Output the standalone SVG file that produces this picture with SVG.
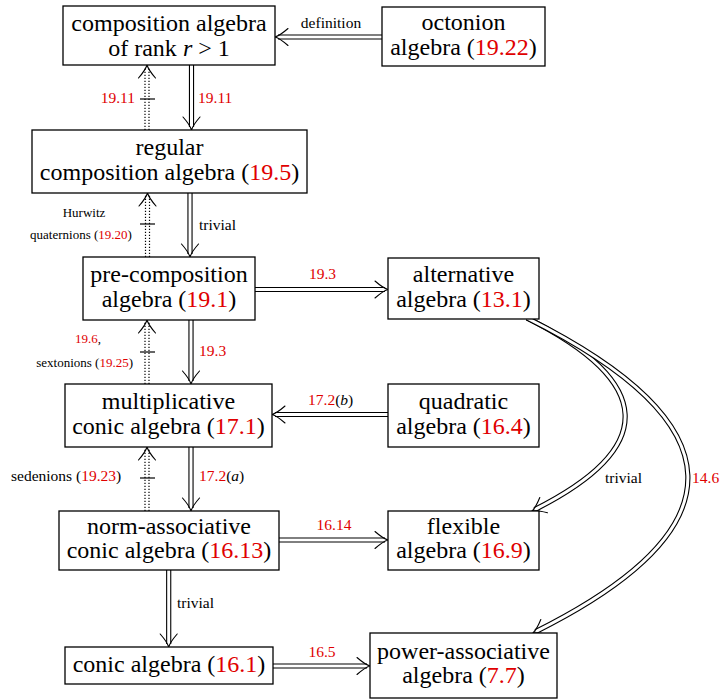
<svg xmlns="http://www.w3.org/2000/svg" xmlns:xlink="http://www.w3.org/1999/xlink" width="721" height="700" viewBox="0 0 721 700">
<style>
.box{fill:#fff;stroke:#000;stroke-width:1.3}
.t{font-family:"Liberation Serif","Times New Roman",serif;font-size:24px;text-anchor:middle;fill:#000}
.l{font-family:"Liberation Serif","Times New Roman",serif;font-size:15.5px;fill:#000}
.s{font-family:"Liberation Serif","Times New Roman",serif;font-size:13px;fill:#000}
.r{fill:#e00000}
.i{font-style:italic}
.mid{text-anchor:middle}
.end{text-anchor:end}
.dbo{fill:none;stroke:#000;stroke-width:5.2}
.dbi{fill:none;stroke:#fff;stroke-width:3}
.ah{fill:none;stroke:#000;stroke-width:1.1;stroke-linecap:round}
.dot{fill:none;stroke:#000;stroke-width:1.2;stroke-dasharray:1.2 1.8}
.tick{stroke:#000;stroke-width:1.2}
</style>
<defs>
<path id="ah" class="ah" d="M-13,-8.5 Q-5,-1.5 0,0 Q-5,1.5 -13,8.5"/>
</defs>
<rect width="721" height="700" fill="#fff"/>

<g id="connectors">
  <!-- octonion -> composition -->
  <path class="dbo" d="M382,37 H278"/><path class="dbi" d="M382,37 H278"/>
  <use xlink:href="#ah" href="#ah" transform="translate(275,37) rotate(180)"/>
  <text class="l mid" x="331" y="28">definition</text>
  <!-- composition -> regular -->
  <path class="dbo" d="M191.5,65 V127"/><path class="dbi" d="M191.5,65 V127"/>
  <use xlink:href="#ah" href="#ah" transform="translate(191.5,130) rotate(90)"/>
  <text class="l r" x="198" y="103">19.11</text>
  <!-- regular ..> composition -->
  <path class="dot" d="M145,130 V67 M149,130 V67"/>
  <use xlink:href="#ah" href="#ah" transform="translate(147,65) rotate(-90)"/>
  <line class="tick" x1="140" y1="99" x2="155" y2="99"/>
  <text class="l r end" x="135" y="103">19.11</text>
  <!-- regular -> pre -->
  <path class="dbo" d="M190,193 V254"/><path class="dbi" d="M190,193 V254"/>
  <use xlink:href="#ah" href="#ah" transform="translate(190,257) rotate(90)"/>
  <text class="l" x="199" y="230">trivial</text>
  <!-- pre ..> regular -->
  <path class="dot" d="M145.5,257 V195 M149.5,257 V195"/>
  <use xlink:href="#ah" href="#ah" transform="translate(147.5,193) rotate(-90)"/>
  <line class="tick" x1="140" y1="224" x2="155" y2="224"/>
  <text class="s mid" x="84" y="217">Hurwitz</text>
  <text class="s mid" x="81" y="239">quaternions (<tspan class="r">19.20</tspan>)</text>
  <!-- pre -> alternative -->
  <path class="dbo" d="M255,289.5 H385"/><path class="dbi" d="M255,289.5 H385"/>
  <use xlink:href="#ah" href="#ah" transform="translate(388,289.5)"/>
  <text class="l r mid" x="322.5" y="279">19.3</text>
  <!-- pre -> multiplicative -->
  <path class="dbo" d="M191,320 V381"/><path class="dbi" d="M191,320 V381"/>
  <use xlink:href="#ah" href="#ah" transform="translate(191,384) rotate(90)"/>
  <text class="l r" x="199" y="356">19.3</text>
  <!-- multiplicative ..> pre -->
  <path class="dot" d="M145,384 V322 M149,384 V322"/>
  <use xlink:href="#ah" href="#ah" transform="translate(147,320) rotate(-90)"/>
  <line class="tick" x1="140" y1="352" x2="155" y2="352"/>
  <text class="s mid" x="88" y="343"><tspan class="r">19.6</tspan>,</text>
  <text class="s end" x="133" y="367">sextonions (<tspan class="r">19.25</tspan>)</text>
  <!-- quadratic -> multiplicative -->
  <path class="dbo" d="M388,414.5 H275"/><path class="dbi" d="M388,414.5 H275"/>
  <use xlink:href="#ah" href="#ah" transform="translate(272,414.5) rotate(180)"/>
  <text class="l" x="308" y="405"><tspan class="r">17.2</tspan>(<tspan class="i">b</tspan>)</text>
  <!-- multiplicative -> norm -->
  <path class="dbo" d="M191,447 V508"/><path class="dbi" d="M191,447 V508"/>
  <use xlink:href="#ah" href="#ah" transform="translate(191,511) rotate(90)"/>
  <text class="l" x="199" y="481"><tspan class="r">17.2</tspan>(<tspan class="i">a</tspan>)</text>
  <!-- norm ..> multiplicative -->
  <path class="dot" d="M145,511 V449 M149,511 V449"/>
  <use xlink:href="#ah" href="#ah" transform="translate(147,447) rotate(-90)"/>
  <line class="tick" x1="140" y1="478" x2="155" y2="478"/>
  <text class="l" x="11" y="481">sedenions (<tspan class="r">19.23</tspan>)</text>
  <!-- norm -> flexible -->
  <path class="dbo" d="M279,540 H385"/><path class="dbi" d="M279,540 H385"/>
  <use xlink:href="#ah" href="#ah" transform="translate(388,540)"/>
  <text class="l r mid" x="334" y="530">16.14</text>
  <!-- norm -> conic -->
  <path class="dbo" d="M168.7,570 V644"/><path class="dbi" d="M168.7,570 V644"/>
  <use xlink:href="#ah" href="#ah" transform="translate(168.7,647) rotate(90)"/>
  <text class="l" x="177" y="608">trivial</text>
  <!-- conic -> power -->
  <path class="dbo" d="M273,666 H367"/><path class="dbi" d="M273,666 H367"/>
  <use xlink:href="#ah" href="#ah" transform="translate(370,666)"/>
  <text class="l r mid" x="322" y="657">16.5</text>
  <!-- alternative -> flexible (curve) -->
  <path class="dbo" d="M527,318 C654,382 659,447 534.7,509.6"/>
  <path class="dbi" d="M527,318 C654,382 659,447 534.7,509.6"/>
  <use xlink:href="#ah" href="#ah" transform="translate(532,511) rotate(153.3)"/>
  <text class="l" x="605" y="483">trivial</text>
  <!-- alternative -> power (curve) -->
  <path class="dbo" d="M527,318 C737,423 743,528 535.7,631.6"/>
  <path class="dbi" d="M527,318 C737,423 743,528 535.7,631.6"/>
  <use xlink:href="#ah" href="#ah" transform="translate(533,633) rotate(153.4)"/>
  <text class="l r" x="692" y="483">14.6</text>
</g>

<g id="composition">
  <rect class="box" x="63" y="6" width="212" height="59"/>
  <text class="t" x="169" y="31">composition algebra</text>
  <text class="t" x="169" y="56">of rank <tspan class="i">r</tspan> &gt; 1</text>
</g>
<g id="octonion">
  <rect class="box" x="382" y="7" width="163" height="59"/>
  <text class="t" x="463.5" y="30">octonion</text>
  <text class="t" x="463.5" y="55">algebra (<tspan class="r">19.22</tspan>)</text>
</g>
<g id="regular">
  <rect class="box" x="32" y="130" width="275" height="63"/>
  <text class="t" x="169.5" y="155">regular</text>
  <text class="t" x="169.5" y="180">composition algebra (<tspan class="r">19.5</tspan>)</text>
</g>
<g id="precomposition">
  <rect class="box" x="83" y="257" width="172" height="63"/>
  <text class="t" x="169" y="282">pre-composition</text>
  <text class="t" x="169" y="307">algebra (<tspan class="r">19.1</tspan>)</text>
</g>
<g id="alternative">
  <rect class="box" x="388" y="258" width="151" height="61"/>
  <text class="t" x="463.5" y="282">alternative</text>
  <text class="t" x="463.5" y="307">algebra (<tspan class="r">13.1</tspan>)</text>
</g>
<g id="multiplicative">
  <rect class="box" x="65" y="384" width="207" height="63"/>
  <text class="t" x="168.5" y="409">multiplicative</text>
  <text class="t" x="168.5" y="434">conic algebra (<tspan class="r">17.1</tspan>)</text>
</g>
<g id="quadratic">
  <rect class="box" x="388" y="384" width="151" height="63"/>
  <text class="t" x="463.5" y="409">quadratic</text>
  <text class="t" x="463.5" y="434">algebra (<tspan class="r">16.4</tspan>)</text>
</g>
<g id="normassociative">
  <rect class="box" x="59" y="511" width="220" height="59"/>
  <text class="t" x="169" y="534">norm-associative</text>
  <text class="t" x="169" y="558">conic algebra (<tspan class="r">16.13</tspan>)</text>
</g>
<g id="flexible">
  <rect class="box" x="388" y="511" width="151" height="59"/>
  <text class="t" x="463.5" y="534">flexible</text>
  <text class="t" x="463.5" y="558">algebra (<tspan class="r">16.9</tspan>)</text>
</g>
<g id="conic">
  <rect class="box" x="65" y="647" width="208" height="37"/>
  <text class="t" x="169" y="672">conic algebra (<tspan class="r">16.1</tspan>)</text>
</g>
<g id="powerassociative">
  <rect class="box" x="370" y="633" width="187" height="65"/>
  <text class="t" x="463.5" y="659">power-associative</text>
  <text class="t" x="463.5" y="683">algebra (<tspan class="r">7.7</tspan>)</text>
</g>
</svg>
